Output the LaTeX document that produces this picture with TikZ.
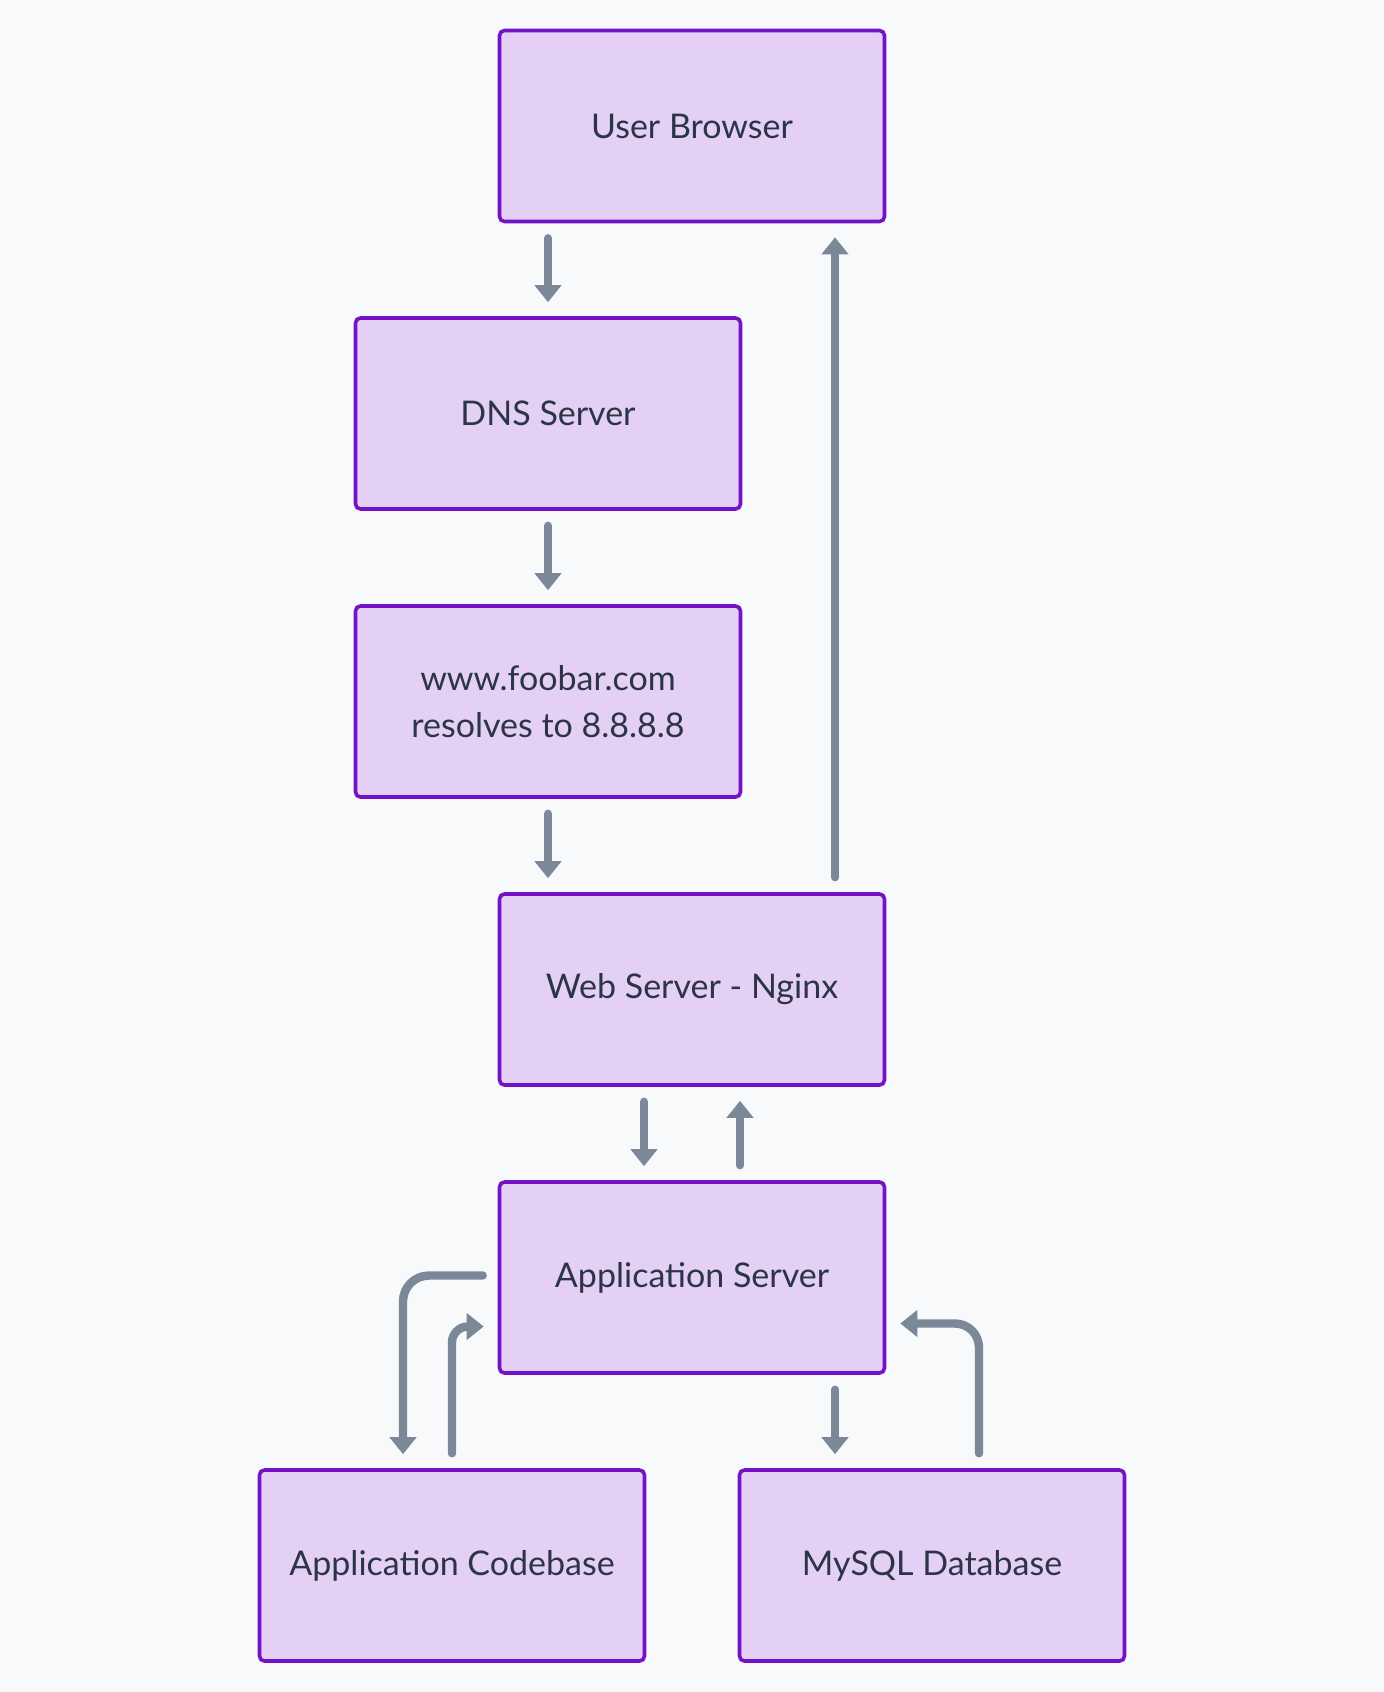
\documentclass[tikz,border=0pt]{standalone}
\usepackage{fontspec}
\setmainfont{Lato}
\usetikzlibrary{arrows.meta}
\definecolor{bgcol}{HTML}{F8F9FB}
\definecolor{boxfill}{HTML}{E4D0F4}
\definecolor{boxline}{HTML}{7412C8}
\definecolor{arrcol}{HTML}{7A8898}
\definecolor{txtcol}{HTML}{2B3546}
\begin{document}
\begin{tikzpicture}[x=0.5pt, y=-0.5pt,
    box/.style={draw=boxline, fill=boxfill, line width=1.8pt, rounded corners=2.5pt,
        minimum width=192.5pt, minimum height=95.5pt, align=center, text=txtcol,
        font=\fontsize{17}{23.2}\selectfont},
    arr/.style={draw=arrcol, line width=4.2pt, line cap=round,
        -{Triangle[length=8.5pt, width=13pt]}, shorten <=7.5pt, shorten >=7pt}]
        % Fond et cadre
        \fill[bgcol] (0, 0) rectangle (1384, 1692);
        \useasboundingbox (0, 0) rectangle (1384, 1692);
        % Les boites
        \node[box] (ub) at (692, 126) {User Browser};
        \node[box] (dns) at (548, 413.5) {DNS Server};
        \node[box] (www) at (548, 701.5) {www.foobar.com\\resolves to 8.8.8.8};
        \node[box] (web) at (692, 989.5) {Web Server - Nginx};
        \node[box] (app) at (692, 1277.5) {Application Server};
        \node[box] (code) at (452, 1565.5) {Application Codebase};
        \node[box] (db) at (932, 1565.5) {MySQL Database};
        % Les fleches vers le bas
        \draw[arr] (ub.south -| dns.north) -- (dns.north);
        \draw[arr] (dns.south) -- (www.north);
        \draw[arr] (www.south) -- (www.south |- web.north);
        \draw[arr] ([xshift=71.5pt]web.north) -- ([xshift=71.5pt]web.north |- ub.south); % retour
        % Web <-> application
        \draw[arr] ([xshift=-24pt]web.south) -- ([xshift=-24pt]app.north);
        \draw[arr] ([xshift=24pt]app.north) -- ([xshift=24pt]web.south);
        % Application <-> code et base
        \draw[arr, rounded corners=13pt] ([yshift=1pt]app.west) -| ([xshift=-24.5pt]code.north);
        \draw[arr, rounded corners=8pt] (code.north) |- ([yshift=-24.5pt]app.west);
        \draw[arr] ([xshift=71.5pt]app.south) -- ([xshift=71.5pt]app.south |- db.north);
        \draw[arr, rounded corners=12pt] ([xshift=23.5pt]db.north) |- ([yshift=-23pt]app.east);
    \end{tikzpicture}
\end{document}
